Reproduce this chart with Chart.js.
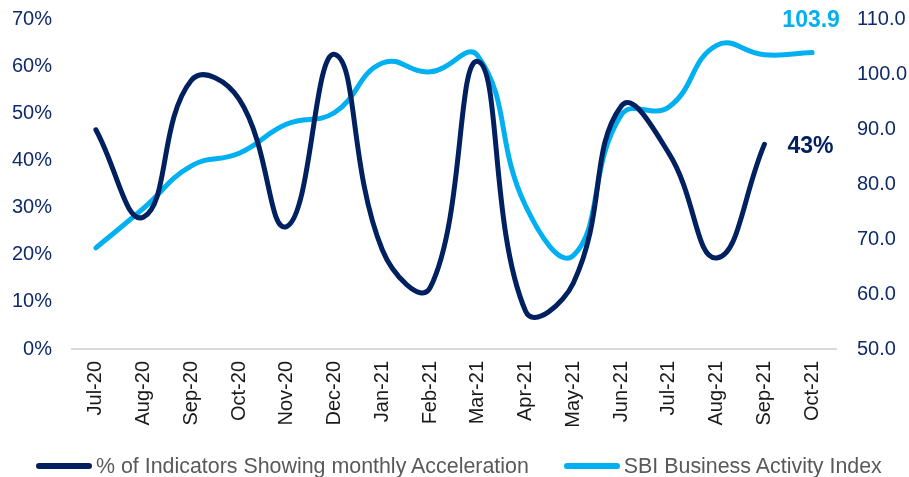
<!DOCTYPE html>
<html>
<head>
<meta charset="utf-8">
<script src="https://cdn.jsdelivr.net/npm/chart.js@4"></script>
<style>
  html, body { margin: 0; padding: 0; background: #fff; }
  #wrap { width: 909px; height: 477px; position: relative; overflow: hidden; }
  #legend {
    position: absolute; left: 36px; top: 453px; height: 26px;
    display: flex; align-items: center;
    font: 21.4px "Liberation Sans", Arial, sans-serif; color: #595959; white-space: nowrap;
  }
  .item { display: flex; align-items: center; }
  .item + .item { margin-left: 35px; }
  .mark { width: 56px; height: 6px; border-radius: 3px; margin-right: 4px; }
</style>
</head>
<body>
<div id="wrap">
  <canvas id="chart"></canvas>
  <div id="legend"></div>
</div>
<script>
// ── Dados ─────────────────────────────────────────────────────────────────────
const months = ["Jul-20","Aug-20","Sep-20","Oct-20","Nov-20","Dec-20","Jan-21","Feb-21",
                "Mar-21","Apr-21","May-21","Jun-21","Jul-21","Aug-21","Sep-21","Oct-21"];
const accelPct = [46.5, 28, 57, 53, 26, 62.5, 21, 13, 61, 8, 14, 51.5, 41.5, 19.3, 43.4, null];
const sbiIndex = [68.4, 75.6, 83.3, 85.6, 90.9, 93, 102, 100.4, 103.3, 76, 67, 92.5, 94, 105.2, 103.5, 103.9];
const leftTicks = [0, 10, 20, 30, 40, 50, 60, 70];
const rightTicks = [50, 60, 70, 80, 90, 100, 110];

const NAVY = "#002060";
const CYAN = "#00B0F0";
const TICK = "#0F2A6B";
const FONT = "'Liberation Sans', Arial, sans-serif";

// ── Rótulos do último ponto ───────────────────────────────────────────────────
const endLabels = {
  id: "endLabels",
  afterDatasetsDraw(chart) {
    const ctx = chart.ctx;
    ctx.save();
    ctx.textBaseline = "middle";

    const i0 = accelPct.length - 2;
    const p0 = chart.getDatasetMeta(0).data[i0];
    ctx.font = "bold 23px " + FONT;
    ctx.fillStyle = NAVY;
    ctx.textAlign = "left";
    ctx.fillText(Math.round(accelPct[i0]) + "%", p0.x + 23, p0.y + 2);

    const i1 = sbiIndex.length - 1;
    const p1 = chart.getDatasetMeta(1).data[i1];
    ctx.font = "bold 23px " + FONT;
    ctx.fillStyle = CYAN;
    ctx.textAlign = "center";
    ctx.fillText(sbiIndex[i1].toFixed(1), p1.x - 1, p1.y - 32);
    ctx.restore();
  }
};

const noPad = s => { s.paddingTop = 0; s.paddingBottom = 0; };

const chart = new Chart(document.getElementById("chart"), {
  type: "line",
  data: {
    labels: months,
    datasets: [
      {
        label: "% of Indicators Showing monthly Acceleration",
        data: accelPct,
        yAxisID: "y",
        borderColor: NAVY,
        backgroundColor: NAVY,
        borderWidth: 5,
        tension: 0.45,
        pointRadius: 0,
        borderCapStyle: "round"
      },
      {
        label: "SBI Business Activity Index",
        data: sbiIndex,
        yAxisID: "y1",
        borderColor: CYAN,
        backgroundColor: CYAN,
        borderWidth: 5,
        tension: 0.45,
        pointRadius: 0,
        borderCapStyle: "round"
      }
    ]
  },
  options: {
    responsive: true,
    maintainAspectRatio: false,
    animation: false,
    layout: { padding: { top: 19, bottom: 38 } },
    plugins: {
      legend: { display: false },
      tooltip: { enabled: false }
    },
    scales: {
      x: {
        offset: true,
        afterFit: s => { s.height = 90; noPad(s); },
        grid: { display: false, drawTicks: false },
        border: { display: true, color: "#D9D9D9", width: 2 },
        ticks: {
          color: "#1a1a1a",
          font: { size: 20, family: FONT },
          minRotation: 90,
          maxRotation: 90,
          padding: 12,
          autoSkip: false
        }
      },
      y: {
        position: "left",
        min: 0,
        max: 70,
        afterBuildTicks: s => { s.ticks = leftTicks.map(v => ({ value: v })); },
        afterFit: s => { s.width = 72; noPad(s); },
        grid: { display: false },
        border: { display: false },
        ticks: {
          color: TICK,
          font: { size: 20, family: FONT },
          padding: 12,
          callback: v => v + "%"
        }
      },
      y1: {
        position: "right",
        min: 50,
        max: 110,
        afterBuildTicks: s => { s.ticks = rightTicks.map(v => ({ value: v })); },
        afterFit: s => { s.width = 73; noPad(s); },
        grid: { display: false },
        border: { display: false },
        ticks: {
          color: TICK,
          font: { size: 20, family: FONT },
          padding: 13,
          callback: v => v.toFixed(1)
        }
      }
    }
  },
  plugins: [endLabels]
});

// ── Legenda ───────────────────────────────────────────────────────────────────
document.getElementById("legend").innerHTML = chart.data.datasets.map(d => `
  <div class="item"><div class="mark" style="background:${d.borderColor}"></div>${d.label}</div>
`).join("");
</script>
</body>
</html>
